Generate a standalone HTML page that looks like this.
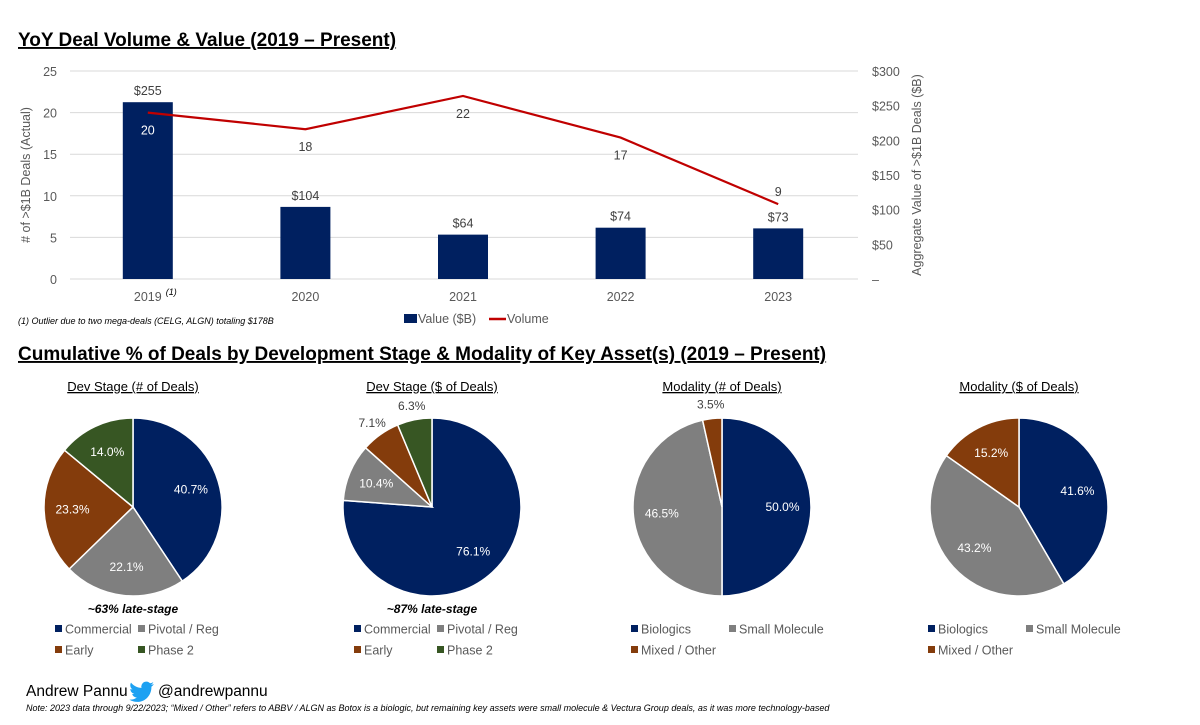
<!DOCTYPE html>
<html><head><meta charset="utf-8"><style>
body{margin:0;background:#fff;font-family:"Liberation Sans",sans-serif;}
svg text{font-family:"Liberation Sans",sans-serif;}
</style></head><body>
<svg id="s" width="1200" height="720" viewBox="0 0 1200 720" xmlns="http://www.w3.org/2000/svg">
<text x="18" y="46" font-size="19" font-weight="bold" text-decoration="underline" fill="#000">YoY Deal Volume &amp; Value (2019 – Present)</text>
<g id="topchart"></g>
<text x="30" y="175" font-size="12.5" fill="#595959" text-anchor="middle" transform="rotate(-90 30 175)"># of &gt;$1B Deals (Actual)</text>
<text x="921" y="175" font-size="12.5" fill="#595959" text-anchor="middle" transform="rotate(-90 921 175)">Aggregate Value of &gt;$1B Deals ($B)</text>
<text x="18" y="324" font-size="9" font-style="italic" fill="#000">(1) Outlier due to two mega-deals (CELG, ALGN) totaling $178B</text>
<rect x="404" y="314" width="13" height="9" fill="#002060"/>
<text x="418" y="323" font-size="12.5" fill="#595959">Value ($B)</text>
<line x1="489" y1="319" x2="506" y2="319" stroke="#c00000" stroke-width="2.5"/>
<text x="507" y="323" font-size="12.5" fill="#595959">Volume</text>
<text x="18" y="360" font-size="19" font-weight="bold" text-decoration="underline" fill="#000">Cumulative % of Deals by Development Stage &amp; Modality of Key Asset(s) (2019 – Present)</text>
<g id="pies"></g>
<text x="133" y="613" font-size="12" font-weight="bold" font-style="italic" text-anchor="middle" fill="#000">~63% late-stage</text>
<text x="432" y="613" font-size="12" font-weight="bold" font-style="italic" text-anchor="middle" fill="#000">~87% late-stage</text>
<text x="26" y="696" font-size="15.5" fill="#000">Andrew Pannu</text>
<path transform="translate(20 0)" d="M134 684c-1 .5-2 .7-3 .8 1-.6 2-1.6 2.3-2.7-1 .6-2 1-3.2 1.2a5 5 0 0 0-8.6 4.6c-4.2-.2-8-2.2-10.5-5.300-1.4 2.4-.7 5.4 1.6 6.9-.8 0-1.6-.3-2.3-.6 0 2.5 1.8 4.6 4.1 5-.8.2-1.6.3-2.3.1.7 2 2.5 3.5 4.7 3.5-2 1.6-4.7 2.4-7.4 2.1 2.2 1.4 4.9 2.3 7.7 2.3 9.4 0 14.6-8 14.3-15.2 1-.7 1.9-1.6 2.6-2.7z" fill="#1da1f2"/>
<text x="158" y="696" font-size="15.5" fill="#000">@andrewpannu</text>
<text x="26" y="711" font-size="9" font-style="italic" fill="#000">Note: 2023 data through 9/22/2023; “Mixed / Other” refers to ABBV / ALGN as Botox is a biologic, but remaining key assets were small molecule &amp; Vectura Group deals, as it was more technology-based</text>
</svg>
<script>
const years=['2019','2020','2021','2022','2023'];
const values=[255,104,64,74,73];
const volumes=[20,18,22,17,9];
const leftTicks=[0,5,10,15,20,25];
const rightTicks=[0,50,100,150,200,250,300];
const pieTitles=['Dev Stage (# of Deals)','Dev Stage ($ of Deals)','Modality (# of Deals)','Modality ($ of Deals)'];
const pie1=[40.7,22.1,23.3,14.0];
const pie2=[76.1,10.4,7.1,6.3];
const pie3=[50.0,46.5,3.5];
const pie4=[41.6,43.2,15.2];
const stageNames=['Commercial','Pivotal / Reg','Early','Phase 2'];
const modNames=['Biologics','Small Molecule','Mixed / Other'];
const NS='http://www.w3.org/2000/svg';
function mk(t,a,p,txt){const e=document.createElementNS(NS,t);for(const k in a)e.setAttribute(k,a[k]);if(txt!==undefined)e.textContent=txt;p.appendChild(e);return e;}
const tg=document.getElementById('topchart');
const x0=70,x1=858,yB=279,yT=71;
const yL=v=>yB-(v/25)*(yB-yT);
const yR=v=>yB-(v/300)*(yB-yT);
const band=(x1-x0)/years.length;
const xC=i=>x0+band*(i+0.5)-1;
leftTicks.forEach(t=>{
 let l=mk('line',{x1:x0,x2:x1,y1:yL(t),y2:yL(t),stroke:'#d9d9d9','stroke-width':1},tg);
 
 
 let e=mk('text',{x:57,y:yL(t)+5,'font-size':12.5,fill:'#595959','text-anchor':'end'},tg,String(t));
 
 
});
rightTicks.forEach(t=>{
 let e=mk('text',{x:872,y:yR(t)+5,'font-size':12.5,fill:'#595959'},tg,t===0?'–':'$'+t);
 
 
});
years.forEach((y,i)=>{
 const bw=50;
 let r=mk('rect',{x:xC(i)-bw/2,y:yR(values[i]),width:bw,height:yB-yR(values[i]),fill:'#002060'},tg);
 
 
 let v=mk('text',{x:xC(i),y:yR(values[i])-7,'font-size':12.5,fill:'#404040','text-anchor':'middle'},tg,'$'+values[i]);
 
 
 let xl=mk('text',{x:xC(i),y:301,'font-size':12.5,fill:'#595959','text-anchor':'middle'},tg,y);
 
 
});
let sup=mk('text',{x:xC(0)+18,y:295,'font-size':9,'font-style':'italic',fill:'#000'},tg,'(1)');


const pts=volumes.map((v,i)=>xC(i)+','+yL(v)).join(' ');
let pl=mk('polyline',{points:pts,fill:'none',stroke:'#c00000','stroke-width':2.2},tg);


volumes.forEach((v,i)=>{
 const last=i===volumes.length-1;
 let e=mk('text',{x:xC(i),y:last?yL(v)-8:yL(v)+22,'font-size':12.5,fill:i===0?'#fff':'#404040','text-anchor':'middle'},tg,String(v));
 
 
});
const pies=document.getElementById('pies');
const cols=['#002060','#7f7f7f','#843c0c','#375623'];
const centers=[133,432,722,1019];
const data=[pie1,pie2,pie3,pie4];
const R=89,CY=507;
data.forEach((d,p)=>{
 const cx=centers[p];
 let t=mk('text',{x:cx,y:391,'font-size':13,fill:'#000','text-anchor':'middle','text-decoration':'underline'},pies,pieTitles[p]);
 
 
 const tot=d.reduce((a,b)=>a+b,0);let a0=0;
 d.forEach((v,k)=>{
  const a1=a0+v/tot*2*Math.PI;
  const px=a=>cx+R*Math.sin(a),py=a=>CY-R*Math.cos(a);
  const large=(a1-a0)>Math.PI?1:0;
  let s=mk('path',{d:`M${cx},${CY}L${px(a0)},${py(a0)}A${R},${R} 0 ${large} 1 ${px(a1)},${py(a1)}Z`,fill:cols[k],stroke:'#fff','stroke-width':1.5},pies);
  
  
  const am=(a0+a1)/2;const out=v<9;const rr=out?R+14:R*0.68;
  let l=mk('text',{x:cx+rr*Math.sin(am),y:CY-rr*Math.cos(am)+4,'font-size':12,fill:out?'#404040':'#fff','text-anchor':'middle'},pies,v.toFixed(1)+'%');
  
  
  a0=a1;
 });
 const names=p<2?stageNames:modNames;
 const lx=p<2?cx-78:cx-91, col2=p<2?83:98;
 names.forEach((n,k)=>{
  const x=lx+(k%2)*col2,y=k<2?629:650;
  let m=mk('rect',{x:x,y:y-4,width:7,height:7,fill:cols[k]},pies);
  
  
  let e=mk('text',{x:x+10,y:y+4.5,'font-size':12.5,fill:'#595959'},pies,n);
  
  
 });
});
</script>
</body></html>
